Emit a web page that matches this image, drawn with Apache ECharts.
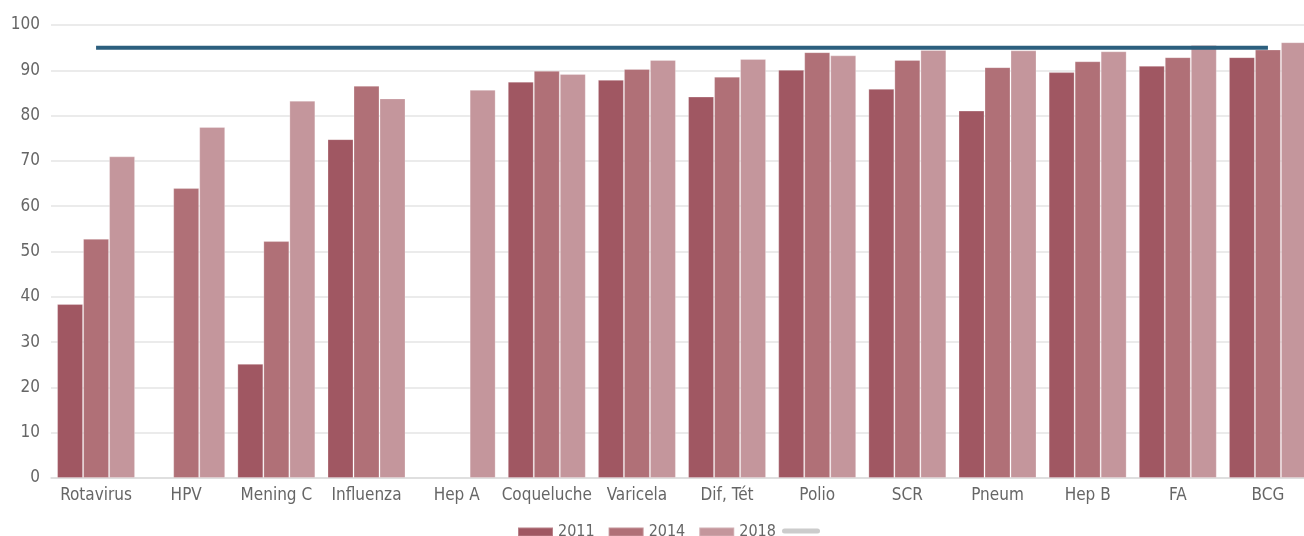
<!DOCTYPE html>
<html>
<head>
<meta charset="utf-8">
<script src="https://cdn.jsdelivr.net/npm/echarts@6/dist/echarts.min.js"></script>
<style>
  html, body { margin: 0; padding: 0; background: #fff; }
  #chart { width: 1304px; height: 536px; }
</style>
</head>
<body>
<div id="chart"></div>
<script>
// Vaccination coverage (%) by vaccine, 2011 / 2014 / 2018, with 95% target line
const categories = ['Rotavirus', 'HPV', 'Mening C', 'Influenza', 'Hep A', 'Coqueluche', 'Varicela',
  'Dif, Tét', 'Polio', 'SCR', 'Pneum', 'Hep B', 'FA', 'BCG'];
const cov2011 = [38.4, null, 25.2, 74.8, null, 87.5, 87.9, 84.2, 90.1, 85.9, 81.1, 89.6, 91.0, 92.9];
const cov2014 = [52.8, 64.0, 52.3, 86.6, null, 89.9, 90.3, 88.6, 94.0, 92.3, 90.7, 92.0, 92.9, 94.6];
const cov2018 = [71.0, 77.5, 83.3, 83.8, 85.7, 89.2, 92.3, 92.5, 93.3, 94.5, 94.4, 94.2, 95.6, 96.2];
const target = categories.map(() => 95);
const yearNames = ['2011', '2014', '2018'];
const targetName = ' ';

const FONT = '"DejaVu Sans Condensed", "Liberation Sans Narrow", sans-serif';
const colors = ['#a05762', '#b07077', '#c4969c'];

const chart = echarts.init(document.getElementById('chart'), null, { renderer: 'canvas' });

function barSeries(name, data, color) {
  return {
    name: name,
    type: 'bar',
    data: data,
    barWidth: 26,
    barGap: '0%',
    itemStyle: { color: color, borderColor: 'rgba(255,255,255,0.25)', borderWidth: 1 },
    emphasis: { disabled: true }
  };
}

chart.setOption({
  animation: false,
  textStyle: { fontFamily: FONT },
  // plot area runs a little past the right edge of the canvas
  grid: { left: 51, width: 1262, top: 25, bottom: 58, containLabel: false, outerBoundsMode: 'none' },
  legend: [
    {
      left: 517,
      top: 520,
      padding: 0,
      itemWidth: 35,
      itemHeight: 9,
      itemGap: 13,
      icon: 'rect',
      textStyle: { fontSize: 16, lineHeight: 16, padding: [0, 0, 8, 0], color: '#666', fontFamily: FONT },
      data: yearNames
    },
    {
      left: 782,
      top: 528.5,
      padding: 0,
      itemWidth: 38,
      itemHeight: 5,
      textStyle: { fontSize: 1, lineHeight: 1, color: '#666', fontFamily: FONT },
      data: [{
        name: targetName,
        icon: 'path://M2.5,0H35.5A2.5,2.5,0,0,1,35.5,5H2.5A2.5,2.5,0,0,1,2.5,0Z',
        itemStyle: { color: '#cccccc' }
      }]
    }
  ],
  xAxis: {
    type: 'category',
    data: categories,
    axisLine: { show: true, lineStyle: { color: '#dcdcdc', width: 1.5 } },
    axisTick: { show: false },
    axisLabel: { fontSize: 17, color: '#666', margin: 9, interval: 0, fontFamily: FONT }
  },
  yAxis: {
    type: 'value',
    min: 0,
    max: 100,
    interval: 10,
    axisLine: { show: false },
    axisTick: { show: false },
    axisLabel: { fontSize: 17, color: '#666', margin: 11, fontFamily: FONT },
    splitLine: { show: true, lineStyle: { color: '#e4e4e4', width: 1.5 } }
  },
  series: [
    barSeries(yearNames[0], cov2011, colors[0]),
    barSeries(yearNames[1], cov2014, colors[1]),
    barSeries(yearNames[2], cov2018, colors[2]),
    {
      name: targetName,
      type: 'line',
      data: target,
      symbol: 'none',
      z: 5,
      lineStyle: { color: '#2c5f7e', width: 4 },
      itemStyle: { color: '#2c5f7e' },
      emphasis: { disabled: true }
    }
  ]
});
</script>
</body>
</html>
